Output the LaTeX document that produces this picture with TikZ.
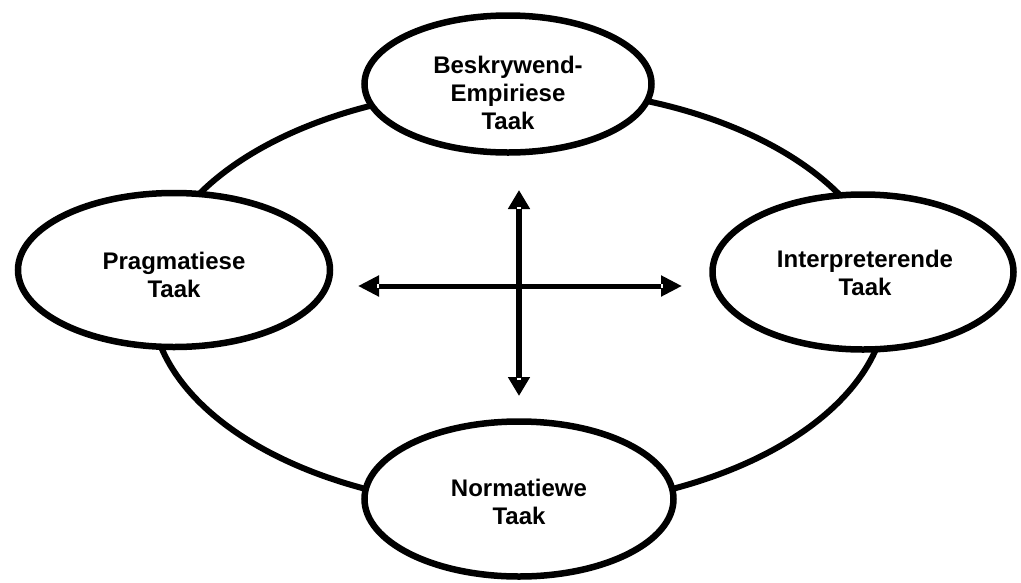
\documentclass[tikz,border=0pt]{standalone}
\usepackage{fontspec}
\setmainfont{Liberation Sans}
\usetikzlibrary{shapes.geometric,arrows.meta}
\begin{document}
\begin{tikzpicture}[x=1pt,y=-1pt,
  task/.style={draw=black,line width=6.5pt,fill=white,ellipse,inner sep=0pt},
  lbl/.style={align=center,font=\fontsize{24}{28}\selectfont\bfseries},
  ring/.style={draw=black,line width=6pt},
  vshaft/.style={line width=6pt,{Triangle[length=19pt,width=21pt]}-{Triangle[length=19pt,width=21pt]}},
  hshaft/.style={line width=5pt,{Triangle[length=21pt,width=20pt]}-{Triangle[length=21pt,width=20pt]}},
  nick/.style={draw=white,line width=1.5pt}]
\useasboundingbox (0,0) rectangle (1021,582);
% big ring
\node[ring,ellipse,minimum width=736pt,minimum height=420pt,inner sep=0pt] (ring) at (519,298) {};
% task ellipses
\node[task,minimum width=287pt,minimum height=137pt] (top) at (508,84) {};
\node[task,minimum width=312pt,minimum height=154pt] (left) at (174,270) {};
\node[task,minimum width=301pt,minimum height=155pt] (right) at (863,272) {};
\node[task,minimum width=309pt,minimum height=155pt] (bottom) at (519,499) {};
\node[lbl] (topt) at (508,93) {Beskrywend-\\Empiriese\\Taak};
\node[lbl] (leftt) at (174,275) {Pragmatiese\\Taak};
\node[lbl] (rightt) at (865,273) {Interpreterende\\Taak};
\node[lbl] (bottomt) at (519,502) {Normatiewe\\Taak};
% cross arrows
\coordinate (vu) at (519,190);
\coordinate (vd) at (519,396);
\coordinate (hl) at (358,286);
\coordinate (hr) at (682,286);
\draw[vshaft] (vu) -- (vd);
\draw[hshaft] (hl) -- (hr);
\coordinate (n1a) at (517,208); \coordinate (n1b) at (521,208);
\coordinate (n2a) at (517,379); \coordinate (n2b) at (521,379);
\coordinate (n3a) at (378,284.3); \coordinate (n3b) at (378,287.7);
\coordinate (n4a) at (662,284.3); \coordinate (n4b) at (662,287.7);
\draw[nick] (n1a) -- (n1b);
\draw[nick] (n2a) -- (n2b);
\draw[nick] (n3a) -- (n3b);
\draw[nick] (n4a) -- (n4b);
\end{tikzpicture}
\end{document}
